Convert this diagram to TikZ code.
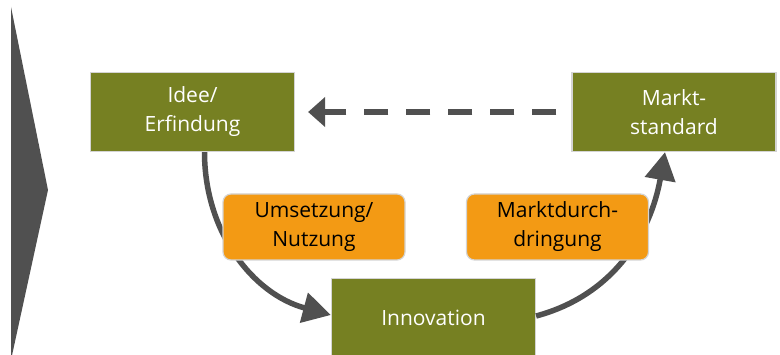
\documentclass[tikz,border=0pt]{standalone}
\usepackage{fontspec}
\setmainfont{Open Sans}
\usetikzlibrary{arrows.meta}
\definecolor{gruen}{RGB}{118,128,34}
\definecolor{hellorange}{RGB}{243,154,20}
\definecolor{dunkelgrau}{RGB}{80,80,80}
\definecolor{rahmen}{RGB}{212,212,212}

\begin{document}
\begin{tikzpicture}[x=1pt, y=-1pt,
    stufe/.style={draw=rahmen, line width=1.2pt, fill=gruen, text=white,
        minimum width=204pt, minimum height=79pt, align=center,
        font=\fontsize{21}{29}\selectfont},
    phase/.style={draw=rahmen, line width=1.2pt, fill=hellorange, text=black,
        rounded corners=8pt, minimum width=182pt, minimum height=66pt,
        align=center, font=\fontsize{21}{29}\selectfont},
    pfeil/.style={draw=dunkelgrau, line width=5.5pt,
        -{Triangle[length=28pt,width=30pt]}}]
    \useasboundingbox (0,0) rectangle (780,355);
    \fill[dunkelgrau] (11,7) -- (48,190) -- (11,360) -- cycle;

    \node[stufe] (idee) at (192.5,112) {Idee/\\Erfindung};
    \node[stufe] (markt) at (674,112) {Markt-\\standard};
    \node[stufe] (innov) at (433.5,318) {Innovation};

    \draw[draw=dunkelgrau, line width=5.5pt, dash pattern=on 24pt off 18pt,
        -{Triangle[length=17pt,width=29pt]}, shorten <=15pt, shorten >=13pt]
        (markt.west) -- (idee.east);
    \draw[pfeil] ([xshift=12pt]idee.south) to[out=-90, in=165] ([yshift=3pt]innov.west);
    \draw[pfeil] ([yshift=2pt]innov.east) to[out=15, in=-100] ([xshift=-9pt]markt.south);

    \node[phase] (umsetz) at (314,227) {Umsetzung/\\Nutzung};
    \node[phase] (durchdr) at (557.5,227) {Marktdurch-\\dringung};
\end{tikzpicture}
\end{document}
